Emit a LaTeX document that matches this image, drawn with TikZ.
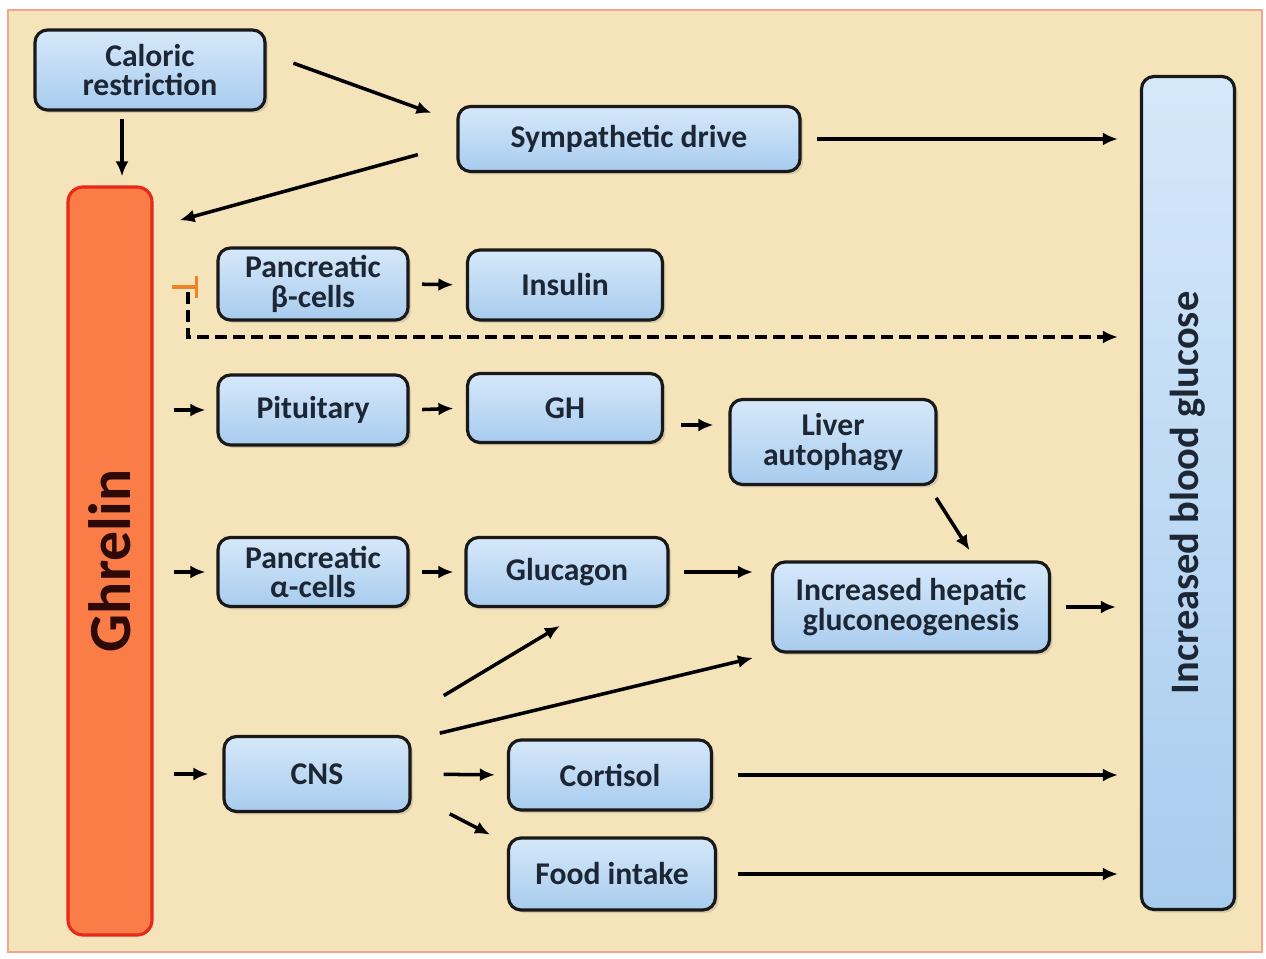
\documentclass[tikz,border=0pt]{standalone}
\usepackage{fontspec}
\setmainfont{Carlito}
\usepackage{xcolor}
\usepackage{tikz}
\usetikzlibrary{arrows.meta,shadows}

\definecolor{paper}{RGB}{245,228,186}
\definecolor{paperedge}{RGB}{240,165,145}
\definecolor{boxtop}{RGB}{214,232,250}
\definecolor{boxbot}{RGB}{168,204,238}
\definecolor{ghrfill}{RGB}{250,125,72}
\definecolor{ghredge}{RGB}{232,40,25}
\definecolor{ink}{RGB}{28,38,52}
\definecolor{inhib}{RGB}{240,130,40}

\begin{document}
\begin{tikzpicture}[>={Latex[length=3mm,width=2.6mm]}, line width=1.8pt,
  box/.style={rectangle, rounded corners=2.5mm, draw=black!90, top color=boxtop, bottom color=boxbot,
    text=ink, font=\fontsize{18}{17}\selectfont\bfseries, align=center, inner sep=0pt,
    drop shadow={opacity=0.25, shadow xshift=0.6mm, shadow yshift=-0.6mm}},
  ghrbox/.style={rectangle, rounded corners=3mm, draw=ghredge, fill=ghrfill, inner sep=0pt,
    text={rgb,255:red,45;green,10;blue,8}, font=\fontsize{34}{34}\selectfont\bfseries},
  arr/.style={->, line width=2pt, shorten <=2.5mm, shorten >=2.5mm}]

\useasboundingbox (0,0) rectangle (25.32,19.16);
\fill[white] (0,0) rectangle (25.32,19.16);
\draw[paperedge, fill=paper, line width=1pt] (0.16,0.12) rectangle (25.24,18.96);

\node[box, minimum width=4.6cm, minimum height=1.6cm]   (cal)   at (3.0,17.76)   {Caloric\\restriction};
\node[box, minimum width=6.84cm, minimum height=1.3cm]  (sym)   at (12.58,16.38) {Sympathetic drive};
\node[ghrbox, minimum width=1.68cm, minimum height=14.96cm] (ghr) at (2.2,7.94) {\rotatebox{90}{Ghrelin}};
\node[box, minimum width=1.86cm, minimum height=16.66cm] (glu) at (23.76,9.3)
  {\rotatebox{90}{\fontsize{23}{23}\selectfont Increased blood glucose}};

\node[box, minimum width=3.8cm, minimum height=1.44cm]  (beta)  at (6.26,13.48)  {Pancreatic\\β-cells};
\node[box, minimum width=3.9cm, minimum height=1.4cm]   (ins)   at (11.3,13.46)  {Insulin};
\node[box, minimum width=3.8cm, minimum height=1.4cm]   (pit)   at (6.26,10.96)  {Pituitary};
\node[box, minimum width=3.9cm, minimum height=1.38cm]  (gh)    at (11.3,11.0)   {GH};
\node[box, minimum width=4.12cm, minimum height=1.7cm]  (liv)   at (16.66,10.32) {Liver\\autophagy};
\node[box, minimum width=3.8cm, minimum height=1.38cm]  (alpha) at (6.26,7.72)   {Pancreatic\\α-cells};
\node[box, minimum width=4.04cm, minimum height=1.38cm] (gcg)   at (11.34,7.72)  {Glucagon};
\node[box, minimum width=5.54cm, minimum height=1.8cm]  (gng)   at (18.22,7.02)  {Increased hepatic\\gluconeogenesis};
\node[box, minimum width=3.72cm, minimum height=1.5cm]  (cns)   at (6.34,3.68)   {CNS};
\node[box, minimum width=4.06cm, minimum height=1.4cm]  (cort)  at (12.2,3.66)   {Cortisol};
\node[box, minimum width=4.14cm, minimum height=1.44cm] (food)  at (12.24,1.68)  {Food intake};

\coordinate (dash) at (3.76,13.32);

\path[arr]
  ([yshift=3.3mm]cal.east) edge[shorten <=5.7mm, shorten >=5.3mm] ([yshift=3.4mm]sym.west)
  ([yshift=-1mm]sym.west) edge[shorten <=8mm, shorten >=5.4mm] ([yshift=-8.4mm]ghr.north east)
  ([xshift=2.4mm]ghr.north |- cal.south) edge[shorten <=1.4mm, shorten >=1.8mm] ([xshift=2.4mm]ghr.north)
  (sym.east) edge[shorten <=3mm, shorten >=4.4mm] (sym.east -| glu.west)
  (beta.east) edge (ins.west)
  (ghr.east |- pit.west) edge[shorten <=4mm, shorten >=2.2mm] (pit.west)
  (pit.east) edge (gh.west)
  ([yshift=-3.4mm]gh.east) edge[shorten <=3.4mm, shorten >=3mm] ([yshift=-3.4mm]gh.east -| liv.west)
  ([xshift=-1.8mm]liv.south east) edge[shorten <=2.8mm, shorten >=2.4mm] ([xshift=1.3cm]gng.north)
  (ghr.east |- alpha.west) edge[shorten <=4mm, shorten >=2.2mm] (alpha.west)
  (alpha.east) edge[shorten >=2.2mm] (gcg.west)
  (gcg.east) edge[shorten <=2.8mm, shorten >=3.6mm] (gng.west |- gcg.east)
  (gng.east) edge[shorten <=3mm, shorten >=4.8mm] (gng.east -| glu.west)
  (ghr.east |- cns.west) edge[shorten <=4mm, shorten >=2.8mm] (cns.west)
  ([yshift=4mm]cns.north east) edge[shorten <=7.5mm, shorten >=6.9mm] ([xshift=4.5mm]gcg.south)
  ([yshift=-1mm]cns.north east) edge[shorten <=5.8mm, shorten >=3.7mm] (gng.south west)
  (cns.east) edge[shorten <=6.4mm, shorten >=2.4mm] (cort.west)
  ([yshift=3.8mm]cns.south east) edge[shorten <=8.6mm, shorten >=3.8mm] ([yshift=-1.4mm]food.north west)
  (cort.east) edge[shorten <=5mm, shorten >=4.4mm] (cort.east -| glu.west)
  (food.east) edge[shorten <=4.2mm, shorten >=4.4mm] (food.east -| glu.west);

\draw[inhib, line width=2.2pt, -{Bar[width=4.4mm]}, shorten <=3.6mm, shorten >=3.6mm]
  ([yshift=-0.6mm]ghr.east |- beta.west) -- ([yshift=-0.6mm]beta.west);
\draw[->, line width=2pt, dash pattern=on 2.4mm off 1.2mm, shorten >=4.4mm]
  (dash) |- ([yshift=3.12cm]glu.west);

\end{tikzpicture}
\end{document}
